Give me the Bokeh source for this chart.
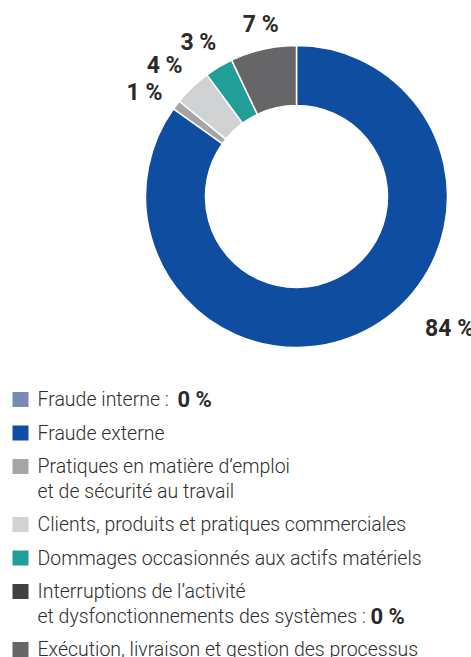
import math
from bokeh.plotting import figure
from bokeh.models import Range1d
from bokeh.core.properties import value
from bokeh.embed import file_html
from bokeh.resources import INLINE

# ---- data ----
categories = [
    "Fraude interne",
    "Fraude externe",
    "Pratiques en matière d’emploi\net de sécurité au travail",
    "Clients, produits et pratiques commerciales",
    "Dommages occasionnés aux actifs matériels",
    "Interruptions de l’activité\net dysfonctionnements des systèmes",
    "Exécution, livraison et gestion des processus",
]
values = [0, 84, 1, 4, 3, 0, 7]
colors = ["#7A8BB3", "#0E4DA0", "#A3A5A8", "#D1D2D4", "#229E99", "#414042", "#666668"]

# ---- layout ----
W, H = 471, 657
cx, cy = 296, H - 196      # donut centre (plot coords, y up)
r_out, r_in = 151, 91
label_r = [183, 202, 184, 186, 183, 183, 176]
label_shift_deg = [0, -22, -3, -1.5, -1.5, 0, 1]

p = figure(width=W, height=H, x_range=Range1d(0, W), y_range=Range1d(0, H),
           output_backend="svg", toolbar_location=None, min_border=0)
p.axis.visible = False
p.grid.visible = False
p.outline_line_color = None
p.background_fill_color = "white"

total = sum(values)
start = 0.0
starts, ends, mids = [], [], []
for v in values:
    span = v / total * 360.0
    starts.append(start)
    ends.append(start + span)
    mids.append(start + span / 2)
    start += span

# wedges (theta clockwise from 12 o'clock); zero-size categories draw nothing
idx = [i for i, v in enumerate(values) if v > 0]
p.annular_wedge(x=[cx] * len(idx), y=[cy] * len(idx), inner_radius=r_in, outer_radius=r_out,
                start_angle=[math.radians(90 - ends[i]) for i in idx],
                end_angle=[math.radians(90 - starts[i]) for i in idx],
                fill_color=[colors[i] for i in idx],
                line_color="white", line_width=1.5)

# percentage labels
lx, ly, lt = [], [], []
for i in idx:
    th = math.radians(mids[i] + label_shift_deg[i])
    lx.append(cx + label_r[i] * math.sin(th))
    ly.append(cy + label_r[i] * math.cos(th))
    lt.append(f"{values[i]} %")
p.text(x=lx, y=ly, text=lt, text_font=value("Roboto"), text_font_style="bold",
       text_font_size="23px", text_color="#2B2A29", text_align="center", text_baseline="middle")

# legend
leg_font = value("'Roboto Light', Roboto")
sq_x, txt_x = 20, 37
row0 = H - 399
item_gap, line_gap = 33.5, 24.5
suffix_x = {0: 177, 5: 370}
y = row0
for i, cat in enumerate(categories):
    lines = cat.split("\n")
    if values[i] == 0:
        lines[-1] = lines[-1] + " :"
    p.rect(x=[sq_x], y=[y], width=16, height=15, fill_color=colors[i], line_color=None)
    for j, ln in enumerate(lines):
        p.text(x=[txt_x], y=[y - j * line_gap], text=[ln], text_font=leg_font,
               text_font_size="19.5px", text_color="#2E2E2E", text_baseline="middle")
    if values[i] == 0:
        p.text(x=[suffix_x[i]], y=[y - (len(lines) - 1) * line_gap], text=[f"{values[i]} %"],
               text_font=value("Roboto"), text_font_style="bold", text_font_size="22px",
               text_color="#2B2A29", text_baseline="middle")
    y -= item_gap + (len(lines) - 1) * line_gap

open("out.html", "w").write(file_html(p, INLINE))
